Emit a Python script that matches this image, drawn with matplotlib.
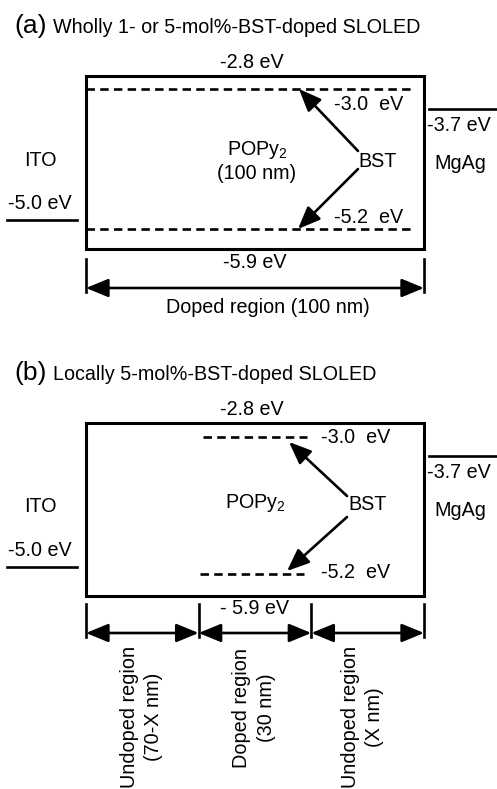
import numpy as np
import matplotlib.pyplot as plt

plt.rcParams['font.family'] = ['Liberation Sans', 'DejaVu Sans']
plt.rcParams['mathtext.fontset'] = 'custom'
plt.rcParams['mathtext.rm'] = 'Liberation Sans'

# ---- data ----
panel_tags = ["(a)", "(b)"]
panel_titles = ["Wholly 1- or 5-mol%-BST-doped SLOLED", "Locally 5-mol%-BST-doped SLOLED"]
host_name = "POPy$_\\mathregular{2}$"
host_thickness = ["(100 nm)", ""]
dopant_name = "BST"
host_lumo = -2.8
host_homo = -5.9
dopant_lumo = -3.0
dopant_homo = -5.2
ito_wf = -5.0
mgag_wf = -3.7
regions_a = ["Doped region (100 nm)"]
regions_b = ["Undoped region\n(70-X nm)", "Doped region\n(30 nm)", "Undoped region\n(X nm)"]


def ev(v, gap=" "):
    return f"{v:.1f}{gap}eV"


# ---- layout (pixels) ----
W, H = 497, 789
box_l, box_r = 86, 424
dy = 347

fig = plt.figure(figsize=(W / 100, H / 100), dpi=100)
ax = fig.add_axes([0, 0, 1, 1])
ax.set_xlim(0, W)
ax.set_ylim(H, 0)
ax.axis('off')

fs = 14.2
k = 'black'
dash = dict(color=k, lw=1.9, dashes=(3.2, 2.0))


def arrow(x0, y0, x1, y1, style='-|>'):
    ax.annotate('', xy=(x1, y1), xytext=(x0, y0),
                arrowprops=dict(arrowstyle=style + ',head_length=0.85,head_width=0.35',
                                lw=1.9, color=k, shrinkA=0, shrinkB=0,
                                mutation_scale=16))


for i in range(2):
    o = i * dy
    # title
    ax.text(14, 33 + o, panel_tags[i], fontsize=19, va='baseline', ha='left')
    ax.text(53, 33 + o, panel_titles[i], fontsize=14.2, va='baseline', ha='left')

    # host box
    ax.plot([box_l, box_r, box_r, box_l, box_l], [76 + o, 76 + o, 249 + o, 249 + o, 76 + o],
            color=k, lw=2.2, solid_joinstyle='miter')
    ax.text(252, 62 + o, ev(host_lumo), fontsize=fs, ha='center', va='center')
    ax.text(255, 262 + o, ev(host_homo) if i == 0 else ev(host_homo).replace('-', '- '),
            fontsize=fs, ha='center', va='center')

    # electrodes
    ax.plot([7, 77], [220 + o, 220 + o], color=k, lw=1.9)
    ax.text(40, 160 + o, "ITO", fontsize=fs, ha='center', va='center')
    ax.text(40, 203 + o, ev(ito_wf), fontsize=fs, ha='center', va='center')
    ax.plot([429, 497], [109 + o, 109 + o], color=k, lw=1.9)
    ax.text(427, 125 + o, ev(mgag_wf), fontsize=fs, ha='left', va='center')
    ax.text(460, 163 + o, "MgAg", fontsize=fs, ha='center', va='center')

    # host label
    if i == 0:
        ax.text(257, 150, host_name, fontsize=fs, ha='center', va='center')
        ax.text(257, 173, host_thickness[0], fontsize=fs, ha='center', va='center')
    else:
        ax.text(255, 156 + o, host_name, fontsize=fs, ha='center', va='center')

# panel (a): dopant levels across the whole layer
ax.plot([box_l, 413], [89, 89], **dash)
ax.plot([box_l, 413], [229, 229], **dash)
ax.text(369, 104, ev(dopant_lumo, "  "), fontsize=fs, ha='center', va='center')
ax.text(369, 217, ev(dopant_homo, "  "), fontsize=fs, ha='center', va='center')
ax.text(378, 161, dopant_name, fontsize=fs, ha='center', va='center')
arrow(358, 151, 299, 89)
arrow(358, 169, 298, 229)

ax.plot([box_l, box_l], [259, 292], color=k, lw=1.9)
ax.plot([box_r, box_r], [259, 292], color=k, lw=1.9)
arrow(box_l, 288, box_r, 288, style='<|-|>')
ax.text(268, 307, regions_a[0], fontsize=fs, ha='center', va='center')

# panel (b): dopant levels only in the doped zone
ax.plot([203, 307], [437, 437], **dash)
ax.plot([200, 304], [574, 574], **dash)
ax.text(356, 437, ev(dopant_lumo, "  "), fontsize=fs, ha='center', va='center')
ax.text(356, 573, ev(dopant_homo, "  "), fontsize=fs, ha='center', va='center')
ax.text(368, 504, dopant_name, fontsize=fs, ha='center', va='center')
arrow(347, 496, 289, 442)
arrow(347, 517, 287, 571)

bounds = np.linspace(box_l, box_r, len(regions_b) + 1)
label_shift = [0, 0, -4]
for xb in bounds:
    ax.plot([xb, xb], [604, 637], color=k, lw=1.9)
for j, lab in enumerate(regions_b):
    arrow(bounds[j], 633, bounds[j + 1], 633, style='<|-|>')
    yc = 708 if j == 1 else 717
    ax.text((bounds[j] + bounds[j + 1]) / 2 - 1 + label_shift[j], yc, lab, fontsize=14.3,
            rotation=90, ha='center', va='center', multialignment='center', linespacing=1.35)

fig.savefig('out.png', dpi=100)
